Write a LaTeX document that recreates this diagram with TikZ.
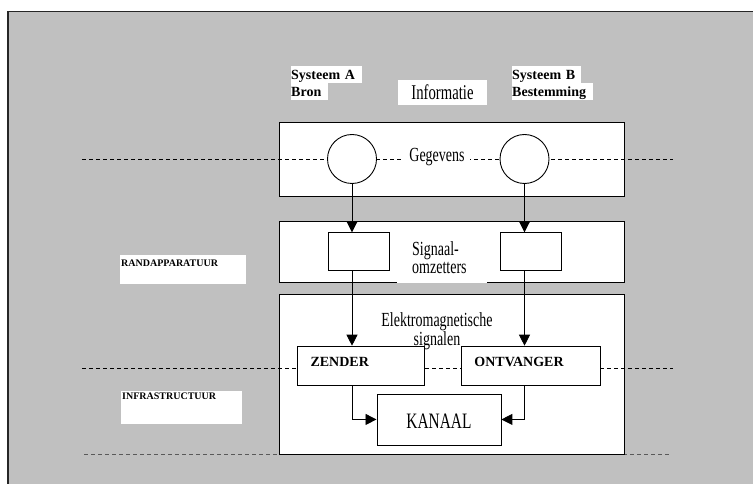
\documentclass[tikz,border=0pt]{standalone}
\usepackage{fontspec}
\setmainfont{Liberation Serif}
\newfontfamily\condfont[FakeStretch=0.7]{Liberation Serif}
\usetikzlibrary{arrows.meta,positioning}
\definecolor{frameGray}{RGB}{192,192,192}

\begin{document}
\begin{tikzpicture}[x=1bp,y=-1bp,
    box/.style={draw,fill=white,line width=0.9bp,inner sep=0pt},
    tag/.style={fill=white,inner sep=0pt,align=left,anchor=north west,
      text height=13.5bp,text depth=3bp,font=\fontsize{14bp}{16bp}\selectfont\bfseries},
    sidetag/.style={fill=white,inner ysep=0pt,inner xsep=1bp,align=left,anchor=north west,
      font=\fontsize{10bp}{12bp}\selectfont\bfseries},
    cond/.style={font=\condfont\fontsize{20bp}{18bp}\selectfont},
    flow/.style={-{Triangle[length=11bp,width=11bp]},line width=0.9bp},
    cut/.style={dash pattern=on 4bp off 3bp,line width=0.9bp}]
  \useasboundingbox (0,0) rectangle (753,484);
  \clip (0,0) rectangle (753,484);
  % Grey sheet with its frame
  \draw[line width=1.6bp,draw=black!85,fill=frameGray] (8,11.7) rectangle (780,510);
  % Lower cut line, behind the signal box
  \draw[cut,draw=black!65] (84,454) -- (672,454);
  % Three layers
  \node[box,minimum width=345.5bp,minimum height=73.7bp,anchor=north west] (geg) at (278.5,122.3) {};
  \node[box,minimum width=345.5bp,minimum height=61bp,anchor=north west] (sig) at (278.5,220.7) {};
  \node[box,minimum width=345.5bp,minimum height=160bp,anchor=north west] (elm) at (278.5,294) {};
  % Cut lines
  \draw[cut] (82,159) -- (673,159);
  \draw[cut] (82,368) -- (673,368);
  % Data layer
  \node[box,circle,minimum size=49bp] (srcA) at (352,159) {};
  \node[box,circle,minimum size=49bp] (dstB) at (524.5,159) {};
  \node[cond,fill=white,inner xsep=5bp,inner ysep=1bp,anchor=base] (gegtxt) at (437,162) {Gegevens};
  % Signal converters
  \node[box,minimum width=61.3bp,minimum height=37.7bp,anchor=north west] (convA) at (328,232.3) {};
  \node[box,minimum width=61.3bp,minimum height=37.7bp,anchor=north west] (convB) at (499.5,232.3) {};
  \node[cond,fill=white,text width=60bp,align=left,inner ysep=0pt,inner xsep=15bp,
    text depth=27.5bp,anchor=south west] (omz) at (397,283.5) {Signaal-\\omzetters};
  % Electromagnetic signals
  \node[cond,font=\condfont\fontsize{20bp}{15bp}\selectfont,align=center,inner sep=0pt,anchor=north]
    (emtxt) at (437,312.5) {Elektromagnetische\\signalen};
  \node[box,font=\fontsize{14bp}{16bp}\selectfont\bfseries,text width=100bp,align=left,
    inner xsep=13.5bp,inner ysep=0pt,text height=20.3bp,text depth=18.7bp,anchor=north west]
    (zender) at (296.6,345.7) {ZENDER};
  \node[box,font=\fontsize{14bp}{16bp}\selectfont\bfseries,text width=112.8bp,align=left,
    inner xsep=13.2bp,inner ysep=0pt,text height=20.3bp,text depth=18.7bp,anchor=north west]
    (ontv) at (460.8,345.7) {ONTVANGER};
  \node[box,font=\condfont\fontsize{22bp}{22bp}\selectfont,minimum width=124bp,
    text height=34.5bp,text depth=16.5bp,anchor=north west] (kanaal) at (376.5,393.5) {KANAAL};
  % Labels on top
  \node[tag,text width=71bp] (sysA) at (291,66) {Systeem A};
  \node[tag,text width=37bp,below right=0pt and 0pt of sysA.south west] (bron) {Bron};
  \node[tag,text width=69bp] (sysB) at (512,66) {Systeem B};
  \node[tag,text width=81bp,below right=0pt and 0pt of sysB.south west] (best) {Bestemming};
  \node[cond,font=\condfont\fontsize{21bp}{21bp}\selectfont,fill=white,inner sep=0pt,
    minimum width=89bp,minimum height=25bp] (info) at (442.5,92.5) {Informatie};
  % Labels at the side
  \node[sidetag,text width=124bp,text height=11.3bp,text depth=17.8bp] (randapp) at (120,254.7) {RANDAPPARATUUR};
  \node[sidetag,text width=119bp,text height=8.7bp,text depth=24.4bp] (infra) at (121,390.3) {INFRASTRUCTUUR};
  % Arrows
  \draw[flow] (srcA.south) -- (srcA.south |- convA.north);
  \draw[flow] (dstB.south) -- (dstB.south |- convB.north);
  \draw[flow] (srcA.south |- convA.south) -- (srcA.south |- zender.north);
  \draw[flow] (dstB.south |- convB.south) -- (dstB.south |- ontv.north);
  \draw[flow] (srcA.south |- zender.south) |- (kanaal.west);
  \draw[flow] (dstB.south |- ontv.south) |- (kanaal.east);
\end{tikzpicture}
\end{document}
